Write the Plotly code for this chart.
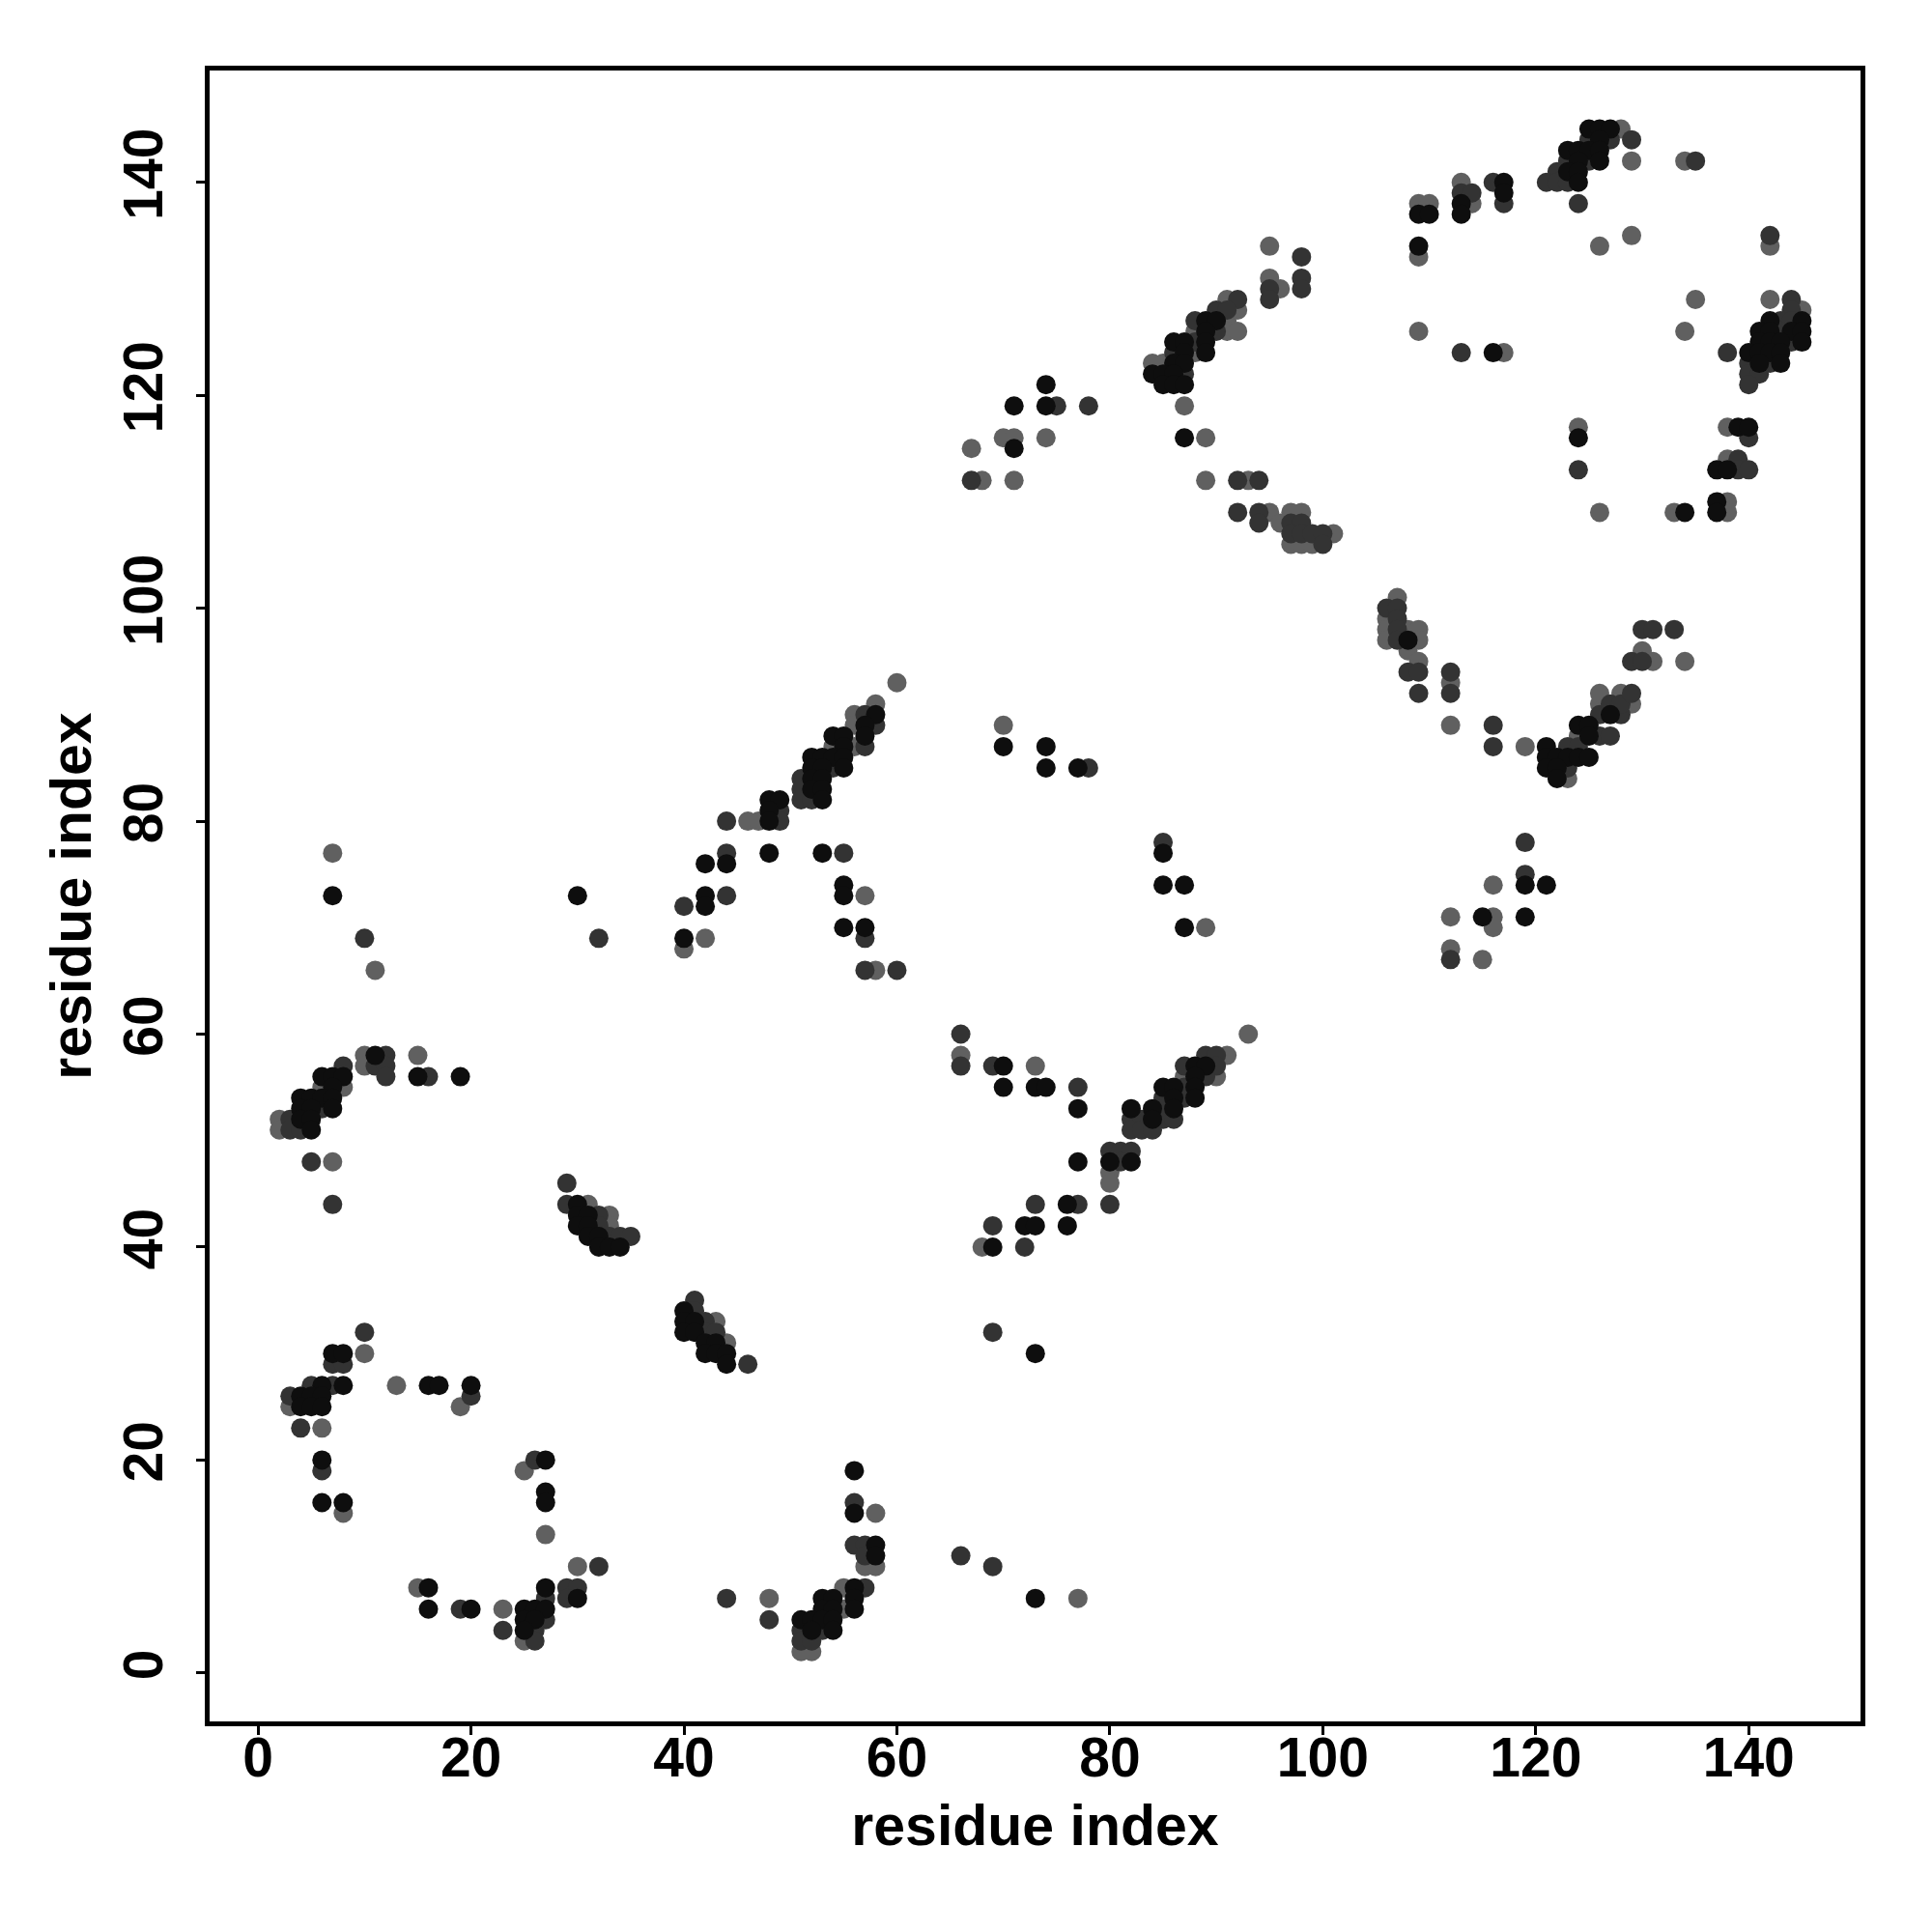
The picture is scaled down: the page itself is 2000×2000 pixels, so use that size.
import plotly.graph_objects as go

# contact-map points (residue i, residue j), grouped by shade
black_contacts = [
    (7,30),(8,30),(6,27),(8,27),(16,27),(17,27),(20,27),(4,26),(5,26),(6,26),(4,25),(5,25),(6,25),
    (6,20),(6,16),(8,16),(27,20),(27,17),(27,16),(16,8),(27,8),(30,7),(16,6),(20,6),(25,6),(26,6),
    (27,6),(25,5),(26,5),(25,4),
    (56,19),(56,15),(58,12),(58,11),(56,8),(53,7),(54,7),(56,7),(53,6),(54,6),(56,6),(51,5),(52,5),
    (53,5),(54,5),(52,4),(54,4),
    (30,44),(30,43),(31,43),(30,42),(31,42),(31,41),(32,41),(32,40),(33,40),(34,40),(40,34),(40,33),
    (41,33),(40,32),(41,32),(42,31),(43,31),(42,30),(43,30),(44,30),(44,29),
    (7,73),(11,58),(6,56),(7,56),(8,56),(15,56),(19,56),(7,55),(4,54),(5,54),(6,54),(7,54),(4,53),
    (5,53),(7,53),(4,52),(5,52),(5,51),
    (58,90),(57,89),(54,88),(55,88),(57,88),(55,87),(52,86),(53,86),(54,86),(55,86),(52,85),(53,85),
    (55,85),(52,84),(53,84),(52,83),(53,83),(53,82),(48,82),(49,82),(48,81),(48,80),(48,77),(53,77),
    (42,76),(44,76),(55,74),(30,73),(42,73),(55,73),(42,72),(55,70),(57,70),(40,69),
    (70,57),(70,55),(73,55),(74,55),(77,53),(88,57),(89,57),(88,56),(85,55),(86,55),(88,55),(86,54),
    (88,54),(82,53),(84,53),(86,53),(84,52),(77,48),(80,48),(82,48),(76,44),(72,42),(73,42),(76,42),
    (69,40),(73,30),(73,7),
    (74,121),(71,119),(74,119),(71,115),(70,87),(74,87),(74,85),(77,85),(85,77),(85,74),(87,74),
    (87,70),(87,116),
    (89,127),(90,127),(89,126),(86,125),(87,125),(89,125),(87,124),(89,124),(86,123),(87,123),
    (84,122),(85,122),(86,122),(85,121),(86,121),(87,121),
    (108,97),(121,87),(121,86),(122,86),(123,86),(124,86),(125,86),(121,85),(122,85),(122,84),
    (124,89),(125,89),(125,88),(127,90),(119,74),(121,74),(115,71),(119,71),
    (125,145),(126,145),(127,145),(126,144),(123,143),(124,143),(125,143),(126,143),(124,142),
    (126,142),(123,141),(124,141),(124,140),(117,140),(117,139),(113,138),(109,137),(110,137),
    (113,137),(109,134),(142,127),(145,127),(141,126),(142,126),(144,126),(145,126),(141,125),
    (142,125),(143,125),(145,125),(116,124),(140,124),(141,124),(142,124),(143,124),(141,123),
    (143,123),(139,117),(140,117),(124,116),(137,113),(138,113),(137,110),(134,109),(137,109),
]
dark_contacts = [
    (10,32),(7,29),(8,29),(5,27),(7,27),(3,26),(20,26),(4,23),(6,19),(26,20),(32,10),(29,8),(30,8),
    (27,7),(29,7),(19,6),(27,5),(23,4),(26,4),(26,3),
    (56,16),(56,12),(57,12),(57,11),(57,8),(44,7),(48,5),(51,4),(53,4),(51,3),(52,3),
    (29,46),(29,44),(32,43),(32,42),(33,41),(34,41),(35,41),(41,35),(41,34),(42,33),(42,32),(43,32),
    (46,29),
    (10,69),(12,58),(11,57),(12,57),(8,57),(12,56),(16,56),(6,53),(3,52),(3,51),(4,51),(5,48),(7,44),
    (57,90),(58,89),(57,87),(54,85),(51,84),(51,83),(51,82),(52,82),(49,81),(44,80),(49,80),(44,77),
    (55,77),(44,73),(40,72),(32,69),(57,69),(57,66),(60,66),
    (66,60),(66,57),(69,57),(77,55),(89,58),(90,58),(87,57),(90,57),(89,56),(87,55),(85,54),(87,54),
    (85,53),(82,52),(83,52),(85,52),(86,52),(82,51),(83,51),(84,51),(80,49),(81,49),(82,49),(81,48),
    (73,44),(77,44),(80,44),(69,42),(72,40),(69,32),(66,11),(69,10),
    (75,119),(78,119),(67,112),(78,85),(85,78),
    (98,133),(98,131),(95,130),(98,130),(92,129),(95,129),(90,128),(91,128),(88,127),(90,126),
    (88,125),(86,124),(87,122),(92,112),(94,112),(92,109),(94,109),(94,108),(97,108),(98,108),
    (97,107),(98,107),(99,107),(100,107),(100,106),
    (106,100),(107,100),(107,99),(107,98),(107,97),(108,94),(109,94),(112,94),(109,92),(112,92),
    (116,89),(116,87),(123,87),(124,87),(123,85),(126,88),(127,88),(126,90),(128,90),(127,91),
    (128,91),(129,92),(129,95),(130,95),(130,98),(131,98),(133,98),(119,78),(119,75),(112,67),
    (125,144),(127,144),(129,144),(123,142),(125,142),(135,142),(122,141),(121,140),(122,140),
    (123,140),(124,138),(116,140),(113,139),(114,139),(117,138),(142,135),(144,129),(144,128),
    (143,127),(144,127),(143,126),(144,125),(113,124),(138,124),(140,123),(142,123),(140,122),
    (141,122),(140,121),(140,116),(139,114),(124,113),(139,113),(140,113),
]
gray_contacts = [
    (10,30),(13,27),(3,25),(19,25),(6,23),(8,15),(25,19),(27,13),(30,10),(15,8),(23,6),(25,3),
    (58,15),(57,10),(58,10),(55,8),(48,7),(55,6),(51,2),(52,2),
    (31,44),(33,43),(33,42),(43,33),(44,31),
    (7,77),(11,66),(10,58),(15,58),(10,57),(6,55),(8,55),(2,52),(2,51),(7,48),
    (60,93),(58,91),(56,90),(56,89),(54,87),(56,87),(46,80),(47,80),(57,73),(42,69),(40,68),(58,66),
    (66,58),(73,57),(93,60),(91,58),(87,56),(90,56),(80,47),(80,46),(68,40),(77,7),
    (70,116),(71,116),(74,116),(67,115),(68,112),(71,112),(70,89),(89,70),(87,119),(89,116),(89,112),
    (95,134),(95,131),(96,130),(91,129),(92,128),(91,127),(88,126),(91,126),(92,126),(88,124),
    (84,123),(85,123),(93,112),(95,109),(97,109),(98,109),(96,108),(101,107),(97,106),(98,106),
    (99,106),
    (107,101),(106,99),(106,98),(108,98),(109,98),(106,97),(109,97),(108,96),(109,95),(112,93),
    (112,89),(119,87),(123,84),(124,88),(126,91),(129,91),(126,92),(128,92),(131,95),(134,95),
    (130,96),(116,74),(112,71),(116,71),(116,70),(112,68),(115,67),
    (128,145),(129,142),(134,142),(113,140),(109,138),(110,138),(114,138),(126,134),(129,135),
    (142,134),(109,133),(135,129),(142,129),(145,128),(109,126),(134,126),(117,124),(124,117),
    (138,117),(138,114),(138,110),(126,109),(133,109),(138,109),
]

tick_vals = [0, 20, 40, 60, 80, 100, 120, 140]

fig = go.Figure()
for contacts, color in [(gray_contacts, "#606060"), (dark_contacts, "#333333"), (black_contacts, "#0e0e0e")]:
    fig.add_trace(go.Scatter(
        x=[c[0] for c in contacts], y=[c[1] for c in contacts], mode="markers",
        marker=dict(size=20, color=color, line=dict(width=0)),
        showlegend=False, hoverinfo="x+y",
    ))

tick_font = dict(family="Liberation Sans, Arial, sans-serif", size=57, color="black", weight="bold")
title_font = dict(family="Liberation Sans, Arial, sans-serif", size=59, color="black", weight="bold")
axis_common = dict(
    showgrid=False, zeroline=False, showline=True, mirror=True, linecolor="black", linewidth=5,
    ticks="outside", ticklen=9, tickwidth=3, tickcolor="black",
    tickvals=tick_vals, ticktext=[str(v) for v in tick_vals], tickfont=tick_font,
    range=[-4.55, 150.5],
)

fig.update_layout(
    width=2000, height=2000,
    margin=dict(l=209, r=82, t=65, b=226),
    paper_bgcolor="white", plot_bgcolor="white",
    xaxis=dict(**axis_common, ticklabelstandoff=-25,
               title=dict(text="residue index", font=title_font, standoff=20)),
    yaxis=dict(**axis_common, tickangle=-90, ticklabelstandoff=12,
               title=dict(text="residue index", font=title_font, standoff=4)),
)

fig.write_html("out.html")
